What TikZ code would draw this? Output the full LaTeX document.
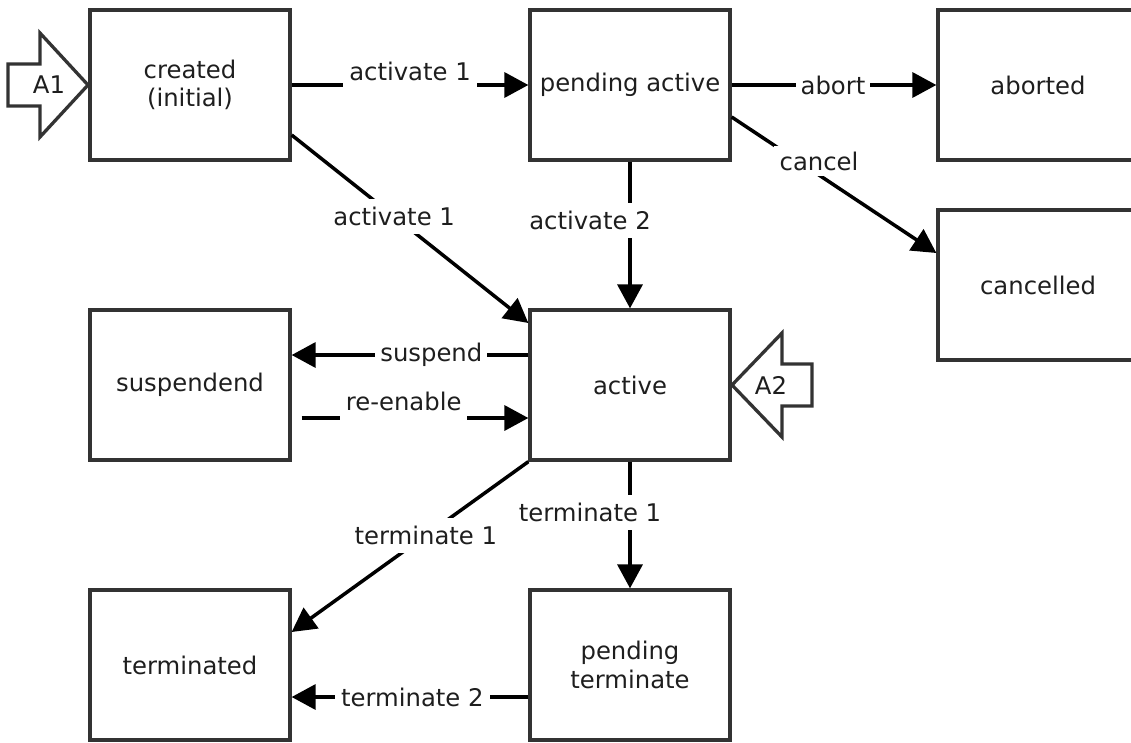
\documentclass[tikz,border=0pt]{standalone}
\usepackage{fontspec}
\setmainfont{DejaVu Sans}
\usetikzlibrary{arrows.meta,calc}
\definecolor{boxline}{HTML}{333333}
\definecolor{txt}{HTML}{1E1E1E}
\begin{document}
\begin{tikzpicture}[x=1pt,y=-1pt,
  every node/.style={font=\fontsize{24.3}{28.5}\selectfont, text=txt},
  state/.style={draw=boxline, line width=3.3pt, minimum width=200pt, minimum height=150pt, inner sep=0pt, align=center},
  conn/.style={draw=black, line width=3.5pt, -{Triangle[length=24pt,width=25pt]}},
  lbl/.style={fill=white, inner xsep=6pt, inner ysep=8pt},
  blockarrow/.style={draw=boxline, line width=3.3pt, fill=white, line join=miter}]
\path[use as bounding box] (0,0) rectangle (1131,742);
\clip (0,0) rectangle (1131,742);

% states
\node[state] (cr) at (190,85) {created\\(initial)};
\node[state] (pa) at (630,85) {pending active};
\node[state] (ab) at (1038,85) {aborted};
\node[state] (cn) at (1038,285) {cancelled};
\node[state] (su) at (190,385) {suspendend};
\node[state] (ac) at (630,385) {active};
\node[state] (tm) at (190,665) {terminated};
\node[state] (pt) at (630,665) {pending\\terminate};

% block arrows
\draw[blockarrow] (8,64) -- (40,64) -- (40,33) -- (88,85) -- (40,137) -- (40,106) -- (8,106) -- cycle;
\node (a1) at (49,85) {A1};
\draw[blockarrow] (732,385) -- (782,333) -- (782,364) -- (812,364) -- (812,406) -- (782,406) -- (782,437) -- cycle;
\node (a2) at (771,385) {A2};

% connectors
\draw[conn] (cr.east) -- (pa.west)
  node[lbl, pos=0.5, anchor=base, yshift=5pt] {activate 1};
\draw[conn] (pa.east) -- (ab.west)
  node[lbl, pos=0.495, inner xsep=5pt] {abort};
\draw[conn] ($(pa.east)+(0,32)$) -- ($(cn.west)+(0,-32)$)
  node[lbl, pos=0.427, yshift=14pt, inner ysep=6pt] {cancel};
\draw[conn] ($(cr.east)+(0,50)$) -- ($(ac.west)+(0,-62)$)
  node[lbl, pos=0.433] {activate 1};
\draw[conn] (pa.south) -- (ac.north)
  node[lbl, pos=0.4, xshift=-40pt] {activate 2};
\draw[conn] ($(ac.west)+(0,-30)$) -- ($(su.east)+(0,-30)$)
  node[lbl, pos=0.41, inner xsep=5pt] {suspend};
\coordinate (reS) at ($(su.east)+(10,33)$);
\draw[conn] (reS) -- ($(ac.west)+(0,33)$)
  node[lbl, pos=0.45, anchor=base, yshift=8pt, inner ysep=11pt] {re-enable};
\draw[conn] (ac.south west) -- ($(tm.east)+(0,-33)$)
  node[lbl, pos=0.433] {terminate 1};
\draw[conn] (ac.south) -- (pt.north)
  node[lbl, pos=0.4, xshift=-40pt] {terminate 1};
\draw[conn] ($(pt.west)+(0,32)$) -- ($(tm.east)+(0,32)$)
  node[lbl, pos=0.49] {terminate 2};
\end{tikzpicture}
\end{document}
